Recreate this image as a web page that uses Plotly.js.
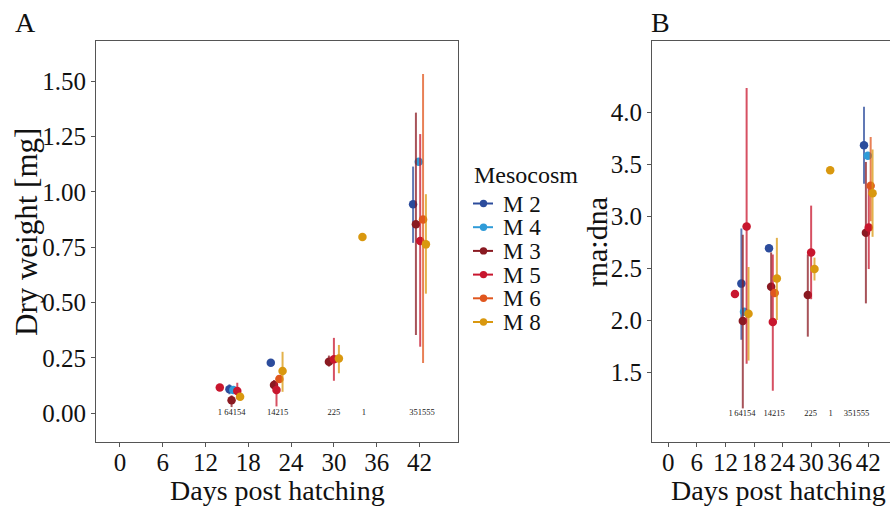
<!DOCTYPE html>
<html>
<head>
<meta charset="utf-8">
<script src="https://cdn.plot.ly/plotly-3.0.1.min.js"></script>
<style>
  html, body { margin: 0; padding: 0; background: #fff; }
  #chart { width: 890px; height: 509px; }
</style>
</head>
<body>
<div id="chart"></div>
<script>
// Mesocosm series: sampling day, dry weight (mean, lower, upper) and rna:dna (mean, lower, upper)
const seriesNames = ['M 2', 'M 4', 'M 3', 'M 5', 'M 6', 'M 8'];

const m2Days = [15.35, 21.15, 41.1];
const m2Dry = [0.108, 0.228, 0.944];
const m2DryLo = [0.085, null, 0.77];
const m2DryHi = [0.13, null, 1.115];
const m2Rna = [2.35, 2.69, 3.68];
const m2RnaLo = [1.81, null, 3.31];
const m2RnaHi = [2.88, null, 4.05];

const m4Days = [15.9, 41.9];
const m4Dry = [0.104, 1.137];
const m4DryLo = [null, null];
const m4DryHi = [null, null];
const m4Rna = [2.08, 3.58];
const m4RnaLo = [null, null];
const m4RnaHi = [null, null];

const m3Days = [15.65, 21.6, 29.3, 41.5];
const m3Dry = [0.058, 0.127, 0.232, 0.854];
const m3DryLo = [0.027, 0.10, 0.21, 0.353];
const m3DryHi = [0.08, 0.15, 0.26, 1.359];
const m3Rna = [1.99, 2.32, 2.24, 2.84];
const m3RnaLo = [1.15, 1.97, 1.84, 2.16];
const m3RnaHi = [2.82, 2.65, 2.63, 3.52];

const m5Days = [14.0, 16.45, 21.95, 30.0, 42.1];
const m5Dry = [0.116, 0.10, 0.104, 0.243, 0.778];
const m5DryLo = [null, 0.062, 0.03, 0.146, 0.30];
const m5DryHi = [null, 0.137, 0.14, 0.34, 1.262];
const m5Rna = [2.25, 2.90, 1.98, 2.65, 2.89];
const m5RnaLo = [null, 1.58, 1.32, 2.20, 2.49];
const m5RnaHi = [null, 4.23, 2.63, 3.10, 3.30];

const m6Days = [22.35, 42.5];
const m6Dry = [0.154, 0.876];
const m6DryLo = [0.137, 0.226];
const m6DryHi = [0.172, 1.534];
const m6Rna = [2.26, 3.29];
const m6RnaLo = [null, 2.95];
const m6RnaHi = [null, 3.76];

const m8Days = [16.85, 22.8, 30.7, 34.0, 42.9];
const m8Dry = [0.074, 0.19, 0.247, 0.796, 0.763];
const m8DryLo = [0.06, 0.096, 0.18, null, 0.54];
const m8DryHi = [0.09, 0.277, 0.308, null, 0.99];
const m8Rna = [2.06, 2.40, 2.49, 3.44, 3.22];
const m8RnaLo = [1.61, 2.0, 2.38, null, 2.80];
const m8RnaHi = [2.51, 2.79, 2.60, null, 3.64];

// Sample sizes printed under each sampling group
const nLabels = ['1', '64154', '14215', '225', '1', '351555'];
const nDaysA = [14.0, 16.1, 22.1, 30.0, 34.2, 42.35];
const nDaysB = [13.1, 16.1, 22.2, 29.9, 34.1, 39.5];
const nLabelYA = 0.0;
const nLabelYB = 1.1;

const xTicks = [0, 6, 12, 18, 24, 30, 36, 42];
const yTicksA = [0, 0.25, 0.5, 0.75, 1.0, 1.25, 1.5];
const yTicksB = [1.5, 2.0, 2.5, 3.0, 3.5, 4.0];

// ---- styling ----
const colors = ['#2C4C9C', '#2F9BD8', '#8A1A22', '#C8162E', '#E0561E', '#D9980F'];
const barColors = ['rgba(44,76,156,0.75)', 'rgba(47,155,216,0.75)', 'rgba(138,26,34,0.75)',
                   'rgba(200,22,46,0.75)', 'rgba(224,86,30,0.75)', 'rgba(217,152,15,0.75)'];
const SERIF = 'Liberation Serif, Times New Roman, serif';
const W = 890, H = 509;
const px = v => v / W;
const py = v => 1 - v / H;

const series = [
  [m2Days, m2Dry, m2DryLo, m2DryHi, m2Rna, m2RnaLo, m2RnaHi],
  [m4Days, m4Dry, m4DryLo, m4DryHi, m4Rna, m4RnaLo, m4RnaHi],
  [m3Days, m3Dry, m3DryLo, m3DryHi, m3Rna, m3RnaLo, m3RnaHi],
  [m5Days, m5Dry, m5DryLo, m5DryHi, m5Rna, m5RnaLo, m5RnaHi],
  [m6Days, m6Dry, m6DryLo, m6DryHi, m6Rna, m6RnaLo, m6RnaHi],
  [m8Days, m8Dry, m8DryLo, m8DryHi, m8Rna, m8RnaLo, m8RnaHi]
];

const plus = (mean, hi) => mean.map((m, i) => hi[i] == null ? 0 : hi[i] - m);
const minus = (mean, lo) => mean.map((m, i) => lo[i] == null ? 0 : m - lo[i]);

const traces = [];
series.forEach((s, k) => {
  const [d, dry, dLo, dHi, rna, rLo, rHi] = s;
  const common = {
    type: 'scatter', mode: 'markers', name: seriesNames[k], showlegend: false,
    marker: { color: colors[k], size: 8.5 }, hoverinfo: 'skip'
  };
  traces.push(Object.assign({}, common, {
    x: d, y: dry, xaxis: 'x', yaxis: 'y',
    error_y: { type: 'data', symmetric: false, array: plus(dry, dHi), arrayminus: minus(dry, dLo),
               width: 0, thickness: 2, color: barColors[k] }
  }));
  traces.push(Object.assign({}, common, {
    x: d, y: rna, xaxis: 'x2', yaxis: 'y2',
    error_y: { type: 'data', symmetric: false, array: plus(rna, rHi), arrayminus: minus(rna, rLo),
               width: 0, thickness: 2, color: barColors[k] }
  }));
});

traces.push({
  type: 'scatter', mode: 'text', x: nDaysA, y: nDaysA.map(() => nLabelYA), text: nLabels,
  xaxis: 'x', yaxis: 'y', showlegend: false, hoverinfo: 'skip',
  textfont: { family: SERIF, size: 8.5, color: '#222' }
});
traces.push({
  type: 'scatter', mode: 'text', x: nDaysB, y: nDaysB.map(() => nLabelYB), text: nLabels,
  xaxis: 'x2', yaxis: 'y2', showlegend: false, hoverinfo: 'skip',
  textfont: { family: SERIF, size: 8.5, color: '#222' }
});

const tickFont = { family: SERIF, size: 25, color: '#111' };
const axisBase = {
  showgrid: false, zeroline: false, showline: true, linecolor: '#555', linewidth: 1,
  ticks: 'outside', ticklen: 4, tickwidth: 1, tickcolor: '#555', tickfont: tickFont,
  fixedrange: true
};

const yDomain = [py(442), py(41)];

const annotations = [
  { text: 'A', x: px(25), y: py(22), font: { family: SERIF, size: 28, color: '#111' } },
  { text: 'B', x: px(660.5), y: py(22), font: { family: SERIF, size: 28, color: '#111' } },
  { text: 'Days post hatching', x: px(277), y: py(490), font: { family: SERIF, size: 28, color: '#111' } },
  { text: 'Days post hatching', x: px(778), y: py(490), font: { family: SERIF, size: 28, color: '#111' } },
  { text: 'Dry weight [mg]', x: px(26), y: py(232), textangle: -90, font: { family: SERIF, size: 31, color: '#111' } },
  { text: 'rna:dna', x: px(597), y: py(242), textangle: -90, font: { family: SERIF, size: 30, color: '#111' } },
  { text: 'Mesocosm', x: px(472), y: py(175), xanchor: 'left', font: { family: SERIF, size: 24, color: '#111' } }
].map(a => Object.assign({ xref: 'paper', yref: 'paper', showarrow: false, xanchor: 'center', yanchor: 'middle' }, a));

// Legend: key glyph (segment with dot) and label for each mesocosm
const shapes = [];
seriesNames.forEach((name, k) => {
  const yc = 203.5 + k * 23.7;
  shapes.push({ type: 'line', xref: 'paper', yref: 'paper', x0: px(473), x1: px(493), y0: py(yc), y1: py(yc),
                line: { color: colors[k], width: 2 } });
  shapes.push({ type: 'circle', xref: 'paper', yref: 'paper', x0: px(479.8), x1: px(487.2), y0: py(yc + 3.7), y1: py(yc - 3.7),
                fillcolor: colors[k], line: { width: 0 } });
  annotations.push({ text: name, xref: 'paper', yref: 'paper', x: px(501), y: py(yc + 0.5), xanchor: 'left', yanchor: 'middle',
                     showarrow: false, font: { family: SERIF, size: 23, color: '#111' } });
});

const layout = {
  width: W, height: H,
  margin: { l: 0, r: 0, t: 0, b: 0, pad: 0 },
  paper_bgcolor: '#fff', plot_bgcolor: '#fff',
  showlegend: false,
  xaxis: Object.assign({}, axisBase, { domain: [px(96), px(458)], range: [-3.36, 47.4], tickvals: xTicks,
                                       mirror: true, anchor: 'y', ticklabelstandoff: -6 }),
  yaxis: Object.assign({}, axisBase, { domain: yDomain, range: [-0.131, 1.683], tickvals: yTicksA,
                                       tickformat: '.2f', mirror: true, anchor: 'x' }),
  xaxis2: Object.assign({}, axisBase, { domain: [px(652), 1], range: [-3.42, 46.56], tickvals: xTicks,
                                        mirror: true, anchor: 'y2', ticklabelstandoff: -6 }),
  yaxis2: Object.assign({}, axisBase, { domain: yDomain, range: [0.827, 4.683], tickvals: yTicksB,
                                        tickformat: '.1f', mirror: false, anchor: 'x2' }),
  annotations: annotations,
  shapes: shapes
};

Plotly.newPlot('chart', traces, layout, { displayModeBar: false, staticPlot: true });
</script>
</body>
</html>
